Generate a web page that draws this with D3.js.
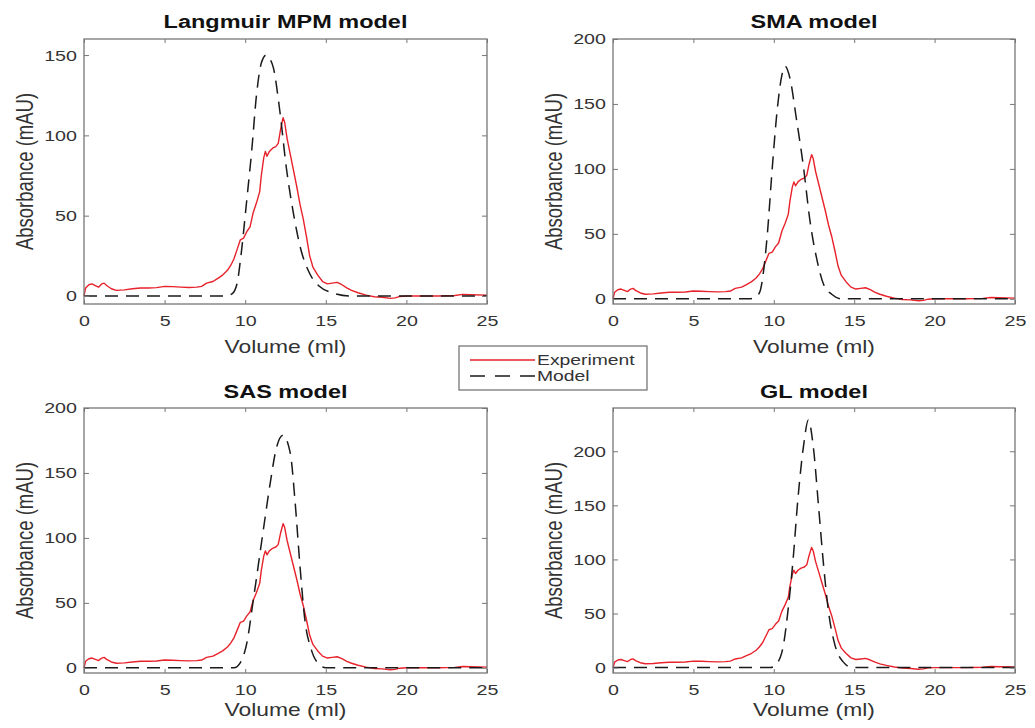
<!DOCTYPE html>
<html>
<head>
<meta charset="utf-8">
<script src="https://cdn.jsdelivr.net/npm/d3@7"></script>
<style>
  body { margin: 0; background: #fff; }
  text { font-family: "Liberation Sans", Arial, sans-serif; fill: #333; }
</style>
</head>
<body>
<script>
// chart values
const panelTitles = ["Langmuir MPM model", "SMA model", "SAS model", "GL model"];
const volumeTicks = [0, 5, 10, 15, 20, 25];
const yDomains = [[-5, 160], [-4, 200], [-4, 200], [-5, 240]];
const yTickValues = [[0, 50, 100, 150], [0, 50, 100, 150, 200], [0, 50, 100, 150, 200], [0, 50, 100, 150, 200]];
const legendLabels = ["Experiment", "Model"];

// [volume (ml), absorbance (mAU)]
const experiment = [
  [0, 0], [0.1, 5], [0.3, 7], [0.5, 7.5], [0.7, 6.5], [0.9, 5.5], [1.1, 7.5], [1.25, 8], [1.4, 6.5],
  [1.7, 4.5], [2.0, 3.5], [2.5, 3.8], [3.0, 4.5], [3.5, 5], [4.0, 5], [4.5, 5.2], [5.0, 6], [5.5, 5.8],
  [6.0, 5.5], [6.5, 5.3], [7.0, 5.5], [7.3, 6], [7.6, 8], [8.0, 9], [8.3, 11], [8.6, 13], [8.9, 16],
  [9.1, 19], [9.3, 23], [9.5, 29], [9.7, 35], [9.9, 36], [10.1, 40], [10.3, 43], [10.5, 52], [10.7, 58],
  [10.9, 65], [11.0, 75], [11.15, 86], [11.25, 90], [11.35, 87], [11.5, 90], [11.7, 92], [11.9, 93],
  [12.05, 95], [12.2, 104], [12.35, 111], [12.45, 108], [12.6, 98], [12.8, 88], [13.0, 78], [13.2, 68],
  [13.4, 57], [13.6, 48], [13.8, 37], [14.0, 25], [14.2, 18], [14.5, 13], [14.8, 9], [15.1, 7.5],
  [15.4, 8], [15.7, 8.5], [16.0, 7], [16.3, 5], [16.6, 3.5], [17.0, 2], [17.5, 0.5], [18.0, -0.5],
  [18.5, -0.8], [19.0, -1.5], [19.3, -1.2], [19.6, -0.3], [20.0, 0], [21, 0], [22, 0], [23, 0.3],
  [23.5, 1], [24, 0.8], [25, 0.5]
];

const langmuirModel = [
  [0, 0], [8.8, 0], [9.2, 1.5], [9.5, 8], [9.7, 22], [10.1, 60], [10.4, 90], [10.7, 125], [11.0, 145],
  [11.3, 150], [11.5, 148], [11.75, 142], [12.15, 115], [12.55, 80], [13.0, 51], [13.4, 31], [14.0, 14],
  [14.6, 6], [15.4, 2], [16.5, 0], [25, 0]
];
const smaModel = [
  [0, 0], [8.5, 0], [8.9, 1.5], [9.15, 6], [9.4, 25], [9.6, 50], [9.9, 100], [10.2, 144], [10.5, 172],
  [10.7, 179], [11.0, 170], [11.4, 139], [11.85, 101], [12.25, 60], [12.7, 29], [13.1, 11], [13.6, 3.5],
  [14.2, 0], [25, 0]
];
const sasModel = [
  [0, 0], [9.3, 0], [9.7, 4], [10.1, 19], [10.5, 52], [11.1, 104], [11.55, 142], [11.95, 170],
  [12.35, 179], [12.8, 165], [13.1, 127], [13.4, 78], [13.7, 37], [14.1, 14], [14.6, 2.5], [15.0, 0], [25, 0]
];
const glModel = [
  [0, 0], [9.8, 0], [10.2, 4], [10.6, 21], [10.9, 55], [11.2, 100], [11.5, 156], [11.85, 205],
  [12.15, 229], [12.45, 205], [12.8, 146], [13.1, 94], [13.4, 52], [13.8, 21], [14.3, 5.5], [14.9, 0], [25, 0]
];
const models = [langmuirModel, smaModel, sasModel, glModel];

// layout
const width = 1035, height = 728;
const SX = 1.27; // the source figure is stretched sideways
const cols = [[84, 487], [613, 1015]];
const rows = [[39, 304], [408, 673]];
const titleY = [27.5, 397.5];
const xLabelY = [353, 715.5];
const frameColor = "#777";
const red = "#e8222b";

const svg = d3.select("body").append("svg")
  .attr("width", width)
  .attr("height", height)
  .style("background", "#fff");

function stretch(x, y, extra, sx) {
  return `translate(${x},${y}) scale(${sx || SX},1)` + (extra || "");
}

panelTitles.forEach(function (title, i) {
  const [L, R] = cols[i % 2];
  const [T, B] = rows[Math.floor(i / 2)];
  const r = Math.floor(i / 2);

  const x = d3.scaleLinear().domain([0, 25]).range([L, R]);
  const y = d3.scaleLinear().domain(yDomains[i]).range([B, T]);

  const g = svg.append("g");

  const line = d3.line().x(d => x(d[0])).y(d => y(d[1]));

  g.append("path")
    .datum(experiment)
    .attr("d", line)
    .attr("fill", "none")
    .attr("stroke", red)
    .attr("stroke-width", 1.4)
    .attr("stroke-linejoin", "round");

  g.append("path")
    .datum(models[i])
    .attr("d", line.curve(d3.curveMonotoneX))
    .attr("fill", "none")
    .attr("stroke", "#1a1a1a")
    .attr("stroke-width", 1.5)
    .attr("stroke-dasharray", "13,8");

  // axes, ticks pointing inward
  const bottom = g.append("g")
    .attr("transform", `translate(0,${B})`)
    .call(d3.axisBottom(x).tickValues(volumeTicks).tickSizeInner(-4).tickSizeOuter(0).tickFormat(d3.format("d")));
  const top = g.append("g")
    .attr("transform", `translate(0,${T})`)
    .call(d3.axisTop(x).tickValues(volumeTicks).tickSizeInner(-4).tickSizeOuter(0).tickFormat(""));
  const left = g.append("g")
    .attr("transform", `translate(${L},0)`)
    .call(d3.axisLeft(y).tickValues(yTickValues[i]).tickSizeInner(-5).tickSizeOuter(0).tickFormat(d3.format("d")));
  const right = g.append("g")
    .attr("transform", `translate(${R},0)`)
    .call(d3.axisRight(y).tickValues(yTickValues[i]).tickSizeInner(-5).tickSizeOuter(0).tickFormat(""));

  [bottom, top, left, right].forEach(function (ax) {
    ax.select(".domain").remove();
    ax.selectAll("line").attr("stroke", frameColor);
    ax.attr("font-size", null).attr("font-family", null);
  });

  bottom.selectAll("text")
    .attr("y", 11)
    .style("font-size", "15.5px")
    .attr("transform", `scale(${SX},1)`);
  left.selectAll("text")
    .attr("x", -7 / SX)
    .style("font-size", "15.5px")
    .attr("transform", `scale(${SX},1)`);

  g.append("rect")
    .attr("x", L).attr("y", T)
    .attr("width", R - L).attr("height", B - T)
    .attr("fill", "none")
    .attr("stroke", frameColor)
    .attr("stroke-width", 1.3);

  g.append("text")
    .attr("transform", stretch((L + R) / 2, titleY[r]))
    .attr("text-anchor", "middle")
    .style("font-size", "18.5px")
    .style("font-weight", "bold")
    .style("fill", "#111")
    .text(title);

  g.append("text")
    .attr("transform", stretch((L + R) / 2, xLabelY[r]))
    .attr("text-anchor", "middle")
    .style("font-size", "18px")
    .text("Volume (ml)");

  g.append("text")
    .attr("transform", stretch(L - 51, (T + B) / 2, " rotate(-90)"))
    .attr("text-anchor", "middle")
    .style("font-size", "18.5px")
    .text("Absorbance (mAU)");
});

// legend
const legend = svg.append("g");
legend.append("rect")
  .attr("x", 459).attr("y", 346)
  .attr("width", 188).attr("height", 44)
  .attr("fill", "#fff")
  .attr("stroke", frameColor)
  .attr("stroke-width", 1.3);

legendLabels.forEach(function (label, k) {
  const ly = 360 + k * 16;
  legend.append("line")
    .attr("x1", 470).attr("x2", 535)
    .attr("y1", ly).attr("y2", ly)
    .attr("stroke", k === 0 ? red : "#1a1a1a")
    .attr("stroke-width", k === 0 ? 1.4 : 1.5)
    .attr("stroke-dasharray", k === 0 ? null : "15,10");
  legend.append("text")
    .attr("transform", stretch(537, ly + 5, "", 1.38))
    .style("font-size", "14px")
    .text(label);
});
</script>
</body>
</html>
